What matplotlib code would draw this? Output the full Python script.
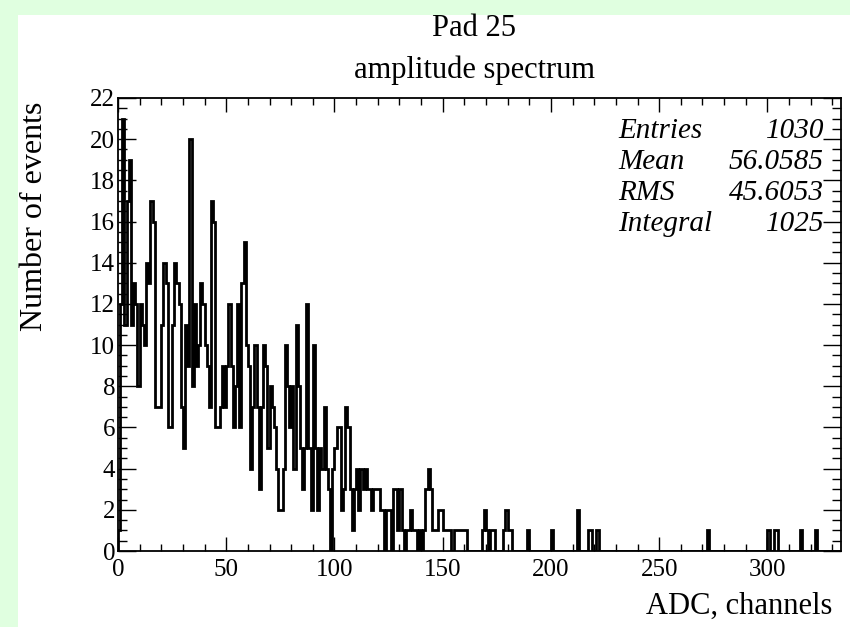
import numpy as np
import matplotlib
matplotlib.use("Agg")
import matplotlib.pyplot as plt
from matplotlib.patches import Rectangle
from matplotlib.ticker import MultipleLocator

# counts per ADC channel, channels 0..189
counts_low = [
    1, 12, 21, 11, 17, 19, 11, 13, 12, 8,
    12, 11, 10, 14, 13, 17, 16, 7, 7, 7,
    11, 14, 13, 6, 6, 11, 14, 13, 12, 7,
    5, 11, 9, 20, 8, 12, 9, 10, 13, 12,
    10, 9, 7, 17, 16, 6, 6, 7, 9, 7,
    9, 12, 9, 6, 8, 12, 6, 13, 15, 10,
    9, 4, 7, 10, 7, 3, 7, 10, 9, 5,
    8, 7, 6, 4, 2, 2, 4, 10, 8, 6,
    8, 4, 11, 8, 5, 3, 5, 12, 5, 2,
    10, 5, 2, 5, 4, 7, 4, 3, 0, 4,
    5, 6, 6, 2, 3, 7, 6, 3, 1, 3,
    4, 2, 4, 3, 4, 3, 3, 2, 3, 3,
    3, 2, 2, 0, 2, 2, 0, 3, 3, 1,
    3, 1, 0, 1, 1, 2, 1, 1, 0, 1,
    0, 1, 3, 4, 3, 1, 1, 1, 2, 2,
    1, 1, 1, 1, 0, 1, 1, 1, 1, 1,
    1, 0, 0, 0, 0, 0, 0, 0, 1, 2,
    1, 0, 1, 1, 0, 0, 0, 0, 1, 2,
    1, 1, 0, 0, 0, 0, 0, 0, 0, 1,
]
# isolated channels in the tail
tail_channels = [200, 212, 217, 218, 221, 272, 300, 303, 304, 315, 322]
tail_counts = [1, 2, 1, 1, 1, 1, 1, 1, 1, 1, 1]

n_channels = 334
stat_names = ["Entries", "Mean", "RMS", "Integral"]
stat_values = ["1030", "56.0585", "45.6053", "1025"]

counts = np.zeros(n_channels)
counts[:len(counts_low)] = counts_low
counts[tail_channels] = tail_counts
edges = np.arange(n_channels + 1)

W, H = 850, 627
fig = plt.figure(figsize=(W / 100, H / 100), dpi=100)
fig.patch.set_facecolor("#e0ffe0")
# white pad
fig.patches.append(Rectangle((18 / W, 0), 1 - 18 / W, 1 - 15 / H,
                             transform=fig.transFigure, facecolor="white",
                             edgecolor="none", zorder=-1))

serif = ["Liberation Serif", "DejaVu Serif"]
plt.rcParams["font.family"] = serif

ax = fig.add_axes([118 / W, 1 - 551 / H, (841 - 118) / W, (551 - 98) / H])
ax.set_zorder(1)
ax.set_facecolor("white")
ax.stairs(counts, edges, color="black", linewidth=2.0)

ax.set_xlim(0, n_channels)
ax.set_ylim(0, 22)
ax.xaxis.set_major_locator(MultipleLocator(50))
ax.xaxis.set_minor_locator(MultipleLocator(10))
ax.yaxis.set_major_locator(MultipleLocator(2))
ax.yaxis.set_minor_locator(MultipleLocator(0.5))
ax.tick_params(axis="both", which="both", direction="in",
               top=True, right=True, width=1.0, labelsize=18, colors="black")
ax.tick_params(axis="x", which="major", length=10, pad=6)
ax.tick_params(axis="x", which="minor", length=5)
ax.tick_params(axis="y", which="major", length=13, pad=2)
ax.tick_params(axis="y", which="minor", length=6.5)
for sp in ax.spines.values():
    sp.set_linewidth(1.3)

fig.text(474 / W, 1 - 29 / H, "Pad 25", ha="center", va="center", fontsize=22)
fig.text(474 / W, 1 - 70 / H, "amplitude spectrum", ha="center", va="center",
         fontsize=22)
fig.text(35 / W, 1 - 216 / H, "Number of events", rotation=90,
         ha="center", va="center", fontsize=23)
fig.text(832 / W, 1 - 606 / H, "ADC, channels", ha="right", va="center",
         fontsize=22)

baselines = [138, 169, 200, 231]
for name, val, yb in zip(stat_names, stat_values, baselines):
    fig.text(618 / W, 1 - yb / H, name, ha="left", va="baseline",
             fontsize=21, style="italic")
    fig.text(824 / W, 1 - yb / H, val, ha="right", va="baseline",
             fontsize=21, style="italic")

fig.savefig("out.png", dpi=100, facecolor=fig.get_facecolor())
